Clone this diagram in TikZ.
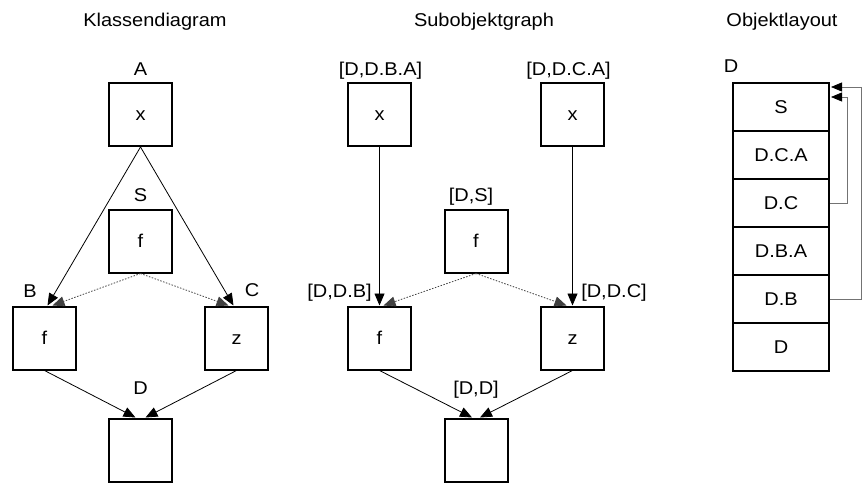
\documentclass[tikz,border=0pt]{standalone}
\usepackage{fontspec}
\setmainfont{Liberation Sans}[FakeStretch=1.08]
\usetikzlibrary{arrows.meta,calc}
\begin{document}
\begin{tikzpicture}[x=1pt,y=-1pt,
  font=\fontsize{18.5}{22}\selectfont,
  box/.style={draw, line width=2pt, minimum width=63pt, minimum height=63pt,
    inner sep=0pt, text height=13pt, text depth=0pt},
  lbl/.style={inner sep=0pt, text height=13pt, text depth=0pt},
  slot/.style={draw, line width=2pt, minimum width=96pt, minimum height=48pt,
    inner sep=0pt, text height=13pt, text depth=0pt},
  inh/.style={-{Triangle[length=12pt,width=10pt]}, line width=0.8pt},
  virt/.style={inh, dash pattern=on 1.5pt off 1.5pt, draw=black!75},
  ptr/.style={-{Triangle[length=11pt,width=9pt,color=black]}, line width=0.8pt, draw=black!55}
]
\useasboundingbox (0,0) rectangle (862,484);

% titles
\node[lbl] (t1) at (155,20.5) {Klassendiagram};
\node[lbl] (t2) at (484,20.5) {Subobjektgraph};
\node[lbl] (t3) at (782,20.5) {Objektlayout};

% ---- class diagram ----
\node[box] (A) at (140.5,114.5) {x};
\node[box] (S) at (140.5,241) {f};
\node[box] (B) at (44.5,338) {f};
\node[box] (C) at (236.5,338) {z};
\node[box] (D) at (140.5,450) {};
\node[lbl] (lA) at (140.5,69.5) {A};
\node[lbl] (lS) at (140.5,194.5) {S};
\node[lbl] (lB) at (30,291) {B};
\node[lbl] (lC) at (252,290) {C};
\node[lbl] (lD) at (140.5,387.5) {D};

\draw[inh] (A.south) -- ($(B.north)+(3,0)$);
\draw[inh] (A.south) -- ($(C.north)+(-3,0)$);
\draw[virt] (S.south) -- ($(B.north)+(8,0)$);
\draw[virt] (S.south) -- ($(C.north)+(-8,0)$);
\draw[inh] (B.south) -- ($(D.north)+(-5,0)$);
\draw[inh] (C.south) -- ($(D.north)+(5,0)$);

% ---- subobject graph ----
\node[box] (DBA) at (379.5,114.5) {x};
\node[box] (DCA) at (572.5,114.5) {x};
\node[box] (DS) at (476,241) {f};
\node[box] (DB) at (379.5,338) {f};
\node[box] (DC) at (572.5,338) {z};
\node[box] (DD) at (476,450) {};
\node[lbl] (lDBA) at (380.5,69.5) {[D,D.B.A]};
\node[lbl] (lDCA) at (568.5,69.5) {[D,D.C.A]};
\node[lbl] (lDS) at (471,194.5) {[D,S]};
\node[lbl] (lDB) at (339.5,291) {[D,D.B]};
\node[lbl] (lDC) at (614,291) {[D,D.C]};
\node[lbl] (lDD) at (476,387.5) {[D,D]};

\draw[inh] (DBA.south) -- (DB.north);
\draw[inh] (DCA.south) -- (DC.north);
\draw[virt] (DS.south) -- ($(DB.north)+(4,0)$);
\draw[virt] (DS.south) -- ($(DC.north)+(-6,0)$);
\draw[inh] (DB.south) -- ($(DD.north)+(-4,0)$);
\draw[inh] (DC.south) -- ($(DD.north)+(4,0)$);

% ---- object layout ----
\node[lbl] (lObj) at (731,66) {D};
\node[slot] (sS)   at (781,107) {S};
\node[slot] (sDCA) at (781,155) {D.C.A};
\node[slot] (sDC)  at (781,203) {D.C};
\node[slot] (sDBA) at (781,251) {D.B.A};
\node[slot] (sDB)  at (781,299) {D.B};
\node[slot] (sD)   at (781,347) {D};

\draw[ptr] (sDC.east) -- ++(17,0) |- ($(sS.north east)+(1,15)$);
\draw[ptr] (sDB.east) -- ++(31,0) |- ($(sS.north east)+(1,5)$);
\end{tikzpicture}
\end{document}
